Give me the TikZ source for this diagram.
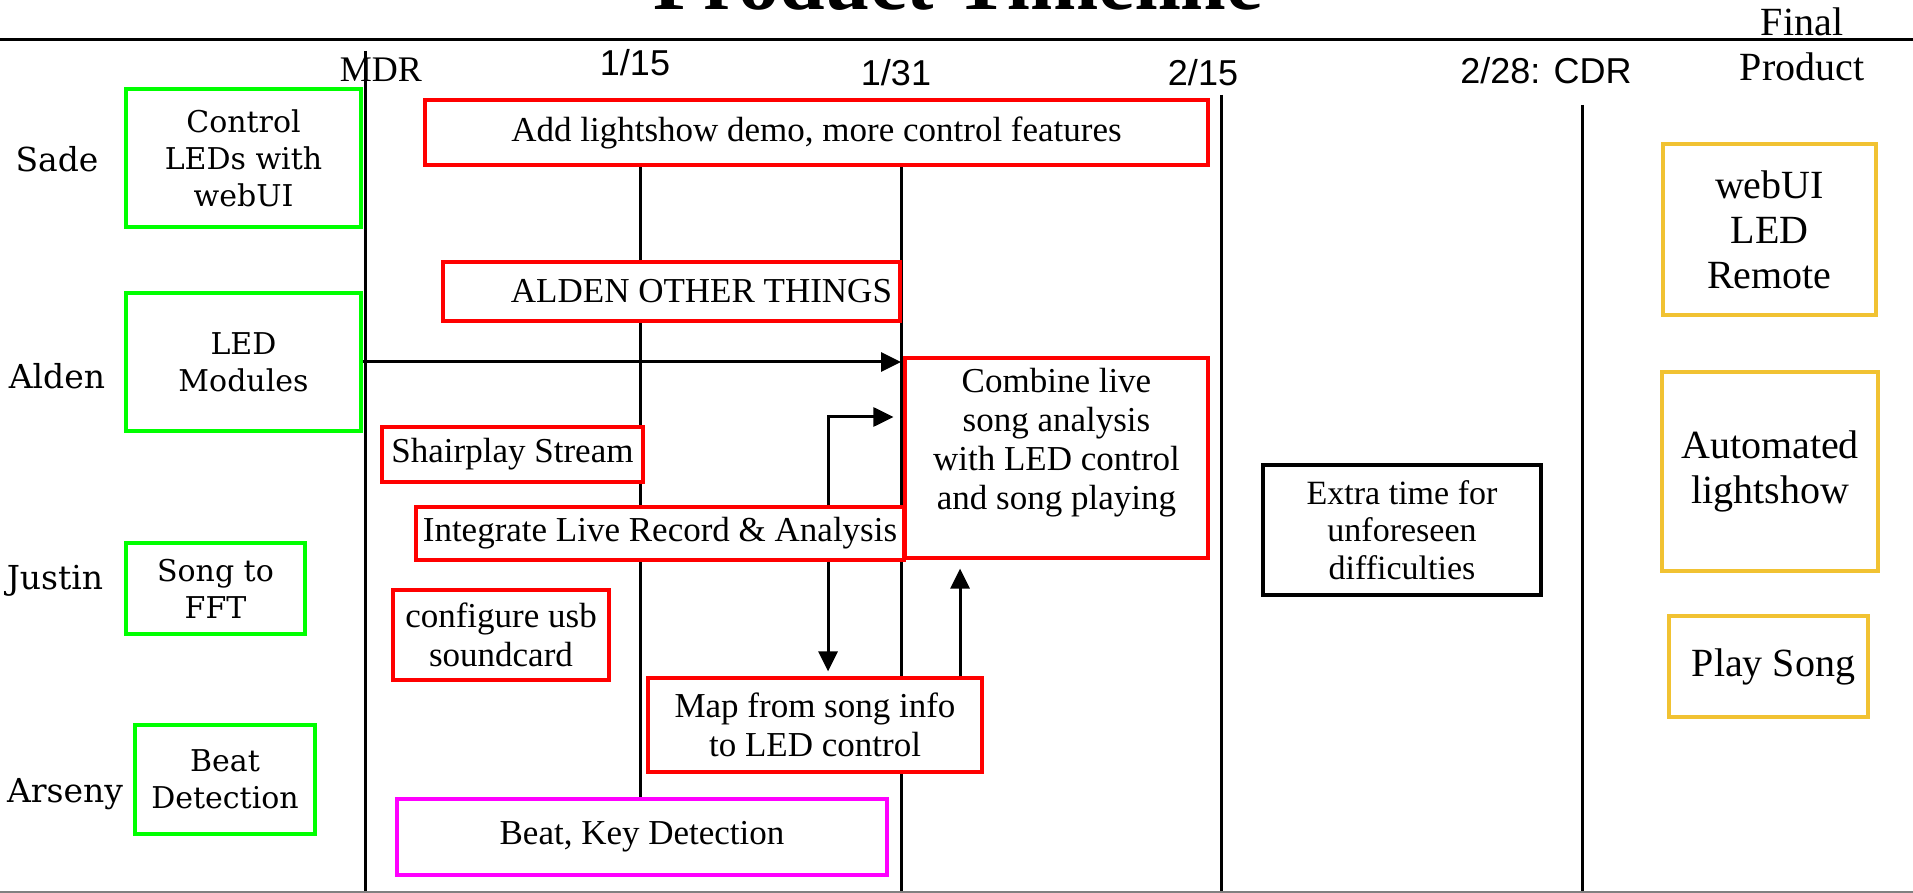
\documentclass[tikz,border=0pt]{standalone}
\usepackage{fontspec}
\setmainfont{Liberation Serif}
\newfontfamily\wideserif{DejaVu Serif}
\newfontfamily\datesans{Liberation Sans}
\usetikzlibrary{arrows.meta,backgrounds}
\definecolor{doneg}{RGB}{0,255,0}
\definecolor{taskr}{RGB}{255,0,0}
\definecolor{pinkm}{RGB}{255,0,255}
\definecolor{goaly}{RGB}{241,194,50}

\begin{document}
\begin{tikzpicture}[x=0.5pt,y=-0.5pt,>={Triangle[length=10pt,width=9.5pt]},
    box/.style={draw,line width=1.6pt,fill=white,align=center,inner sep=0pt},
    wh/.style 2 args={minimum width=#1*0.5pt,minimum height=#2*0.5pt},
    done/.style={box,draw=doneg,font=\wideserif\fontsize{15}{18.5}\selectfont},
    task/.style={box,draw=taskr,font=\fontsize{17.5}{19.5}\selectfont},
    goal/.style={box,draw=goaly,font=\fontsize{20}{22.5}\selectfont},
    who/.style={font=\wideserif\fontsize{16.5}{18}\selectfont},
    date/.style={font=\datesans\fontsize{18}{20}\selectfont},
    tick/.style={line width=1.5pt},
    flow/.style={->,line width=1.5pt}]
  \useasboundingbox (0,0) rectangle (1913,893);

  \node[anchor=base,font=\bfseries\fontsize{41}{45}\selectfont] (title) at (958,10) {Product Timeline};

  \node[font=\fontsize{18}{20}\selectfont] (mdr) at (381,70) {MDR};
  \node[date] (d115) at (635,63) {1/15};
  \node[date] (d131) at (896,73) {1/31};
  \node[date] (d215) at (1203,73) {2/15};
  \node[date] (cdr) at (1546,71) {2/28: CDR};
  \node[align=center,font=\fontsize{20}{22.5}\selectfont] (final) at (1802,44) {Final\\Product};

  \node[who] (sade) at (57,159) {Sade};
  \node[who] (alden) at (57,376) {Alden};
  \node[who] (justin) at (55,581) {Justin};
  \node[who] (arseny) at (65,794) {Arseny};

  \node[done,wh={235}{138}] (webui) at (243.5,158) {Control\\LEDs with\\webUI};
  \node[done,wh={235}{138}] (ledmod) at (243.5,362) {LED\\Modules};
  \node[done,wh={179}{91}] (fft) at (215.5,588.5) {Song to\\FFT};
  \node[done,wh={180}{109}] (beat) at (225,779.5) {Beat\\Detection};

  \node[task,wh={783}{65}] (demo) at (816.5,132.5) {Add lightshow demo, more control features};
  \node[task,wh={457}{59}] (others) at (671.5,291.5) {\hspace*{30pt}ALDEN OTHER THINGS};
  \node[task,wh={303}{200}] (combine) at (1056.5,458) {Combine live\\song analysis\\with LED control\\and song playing\\ \mbox{}};
  \node[task,wh={261}{55}] (airplay) at (512.5,454.5) {Shairplay Stream};
  \node[task,wh={488}{53}] (record) at (660,533.5) {Integrate Live Record \& Analysis};
  \node[task,wh={216}{90}] (usb) at (501,635) {configure usb\\soundcard};
  \node[task,wh={334}{94}] (mapled) at (815,725) {Map from song info\\to LED control};
  \node[task,draw=pinkm,wh={490}{76}] (keydet) at (642,837) {Beat, Key Detection};

  \node[box,draw=black,wh={278}{130},font=\fontsize{17}{18.6}\selectfont] (extra) at (1402,530) {Extra time for\\unforeseen\\difficulties};

  \node[goal,wh={213}{171}] (remote) at (1769.5,229.5) {webUI\\LED\\Remote};
  \node[goal,wh={216}{199}] (autoshow) at (1770,471.5) {Automated\\lightshow};
  \node[goal,wh={199}{101}] (playsong) at (1768.5,666.5) {\hspace*{5pt}Play Song};

  \coordinate (x115) at (640,0);
  \coordinate (x131) at (901,0);
  \coordinate (floor) at (0,893);
  \coordinate (bend) at (828,417);
  \coordinate (up) at (960,0);

  \begin{scope}[on background layer]
    \draw[line width=1.5pt] (0,40) -- (1913,40);
    \draw[tick] (365,51) -- (365,893);
    \draw[tick] (demo.south -| x115) -- (keydet.north -| x115);
    \draw[tick] (demo.south -| x131) -- (x131 |- floor);
    \draw[tick] (1221,95) -- (1221,893);
    \draw[tick] (1582,105) -- (1582,893);
  \end{scope}
  \draw[gray,line width=1pt] (0,892) -- (1913,892);

  \draw[flow] (ledmod.east) -- (ledmod.east -| x131);
  \draw[flow,shorten >=5pt] (record.north -| bend) |- (combine.west |- bend);
  \draw[flow,shorten >=2.5pt] (record.south -| bend) -- (mapled.north -| bend);
  \draw[flow,shorten >=4.5pt] (mapled.north -| up) -- (combine.south -| up);
\end{tikzpicture}
\end{document}
